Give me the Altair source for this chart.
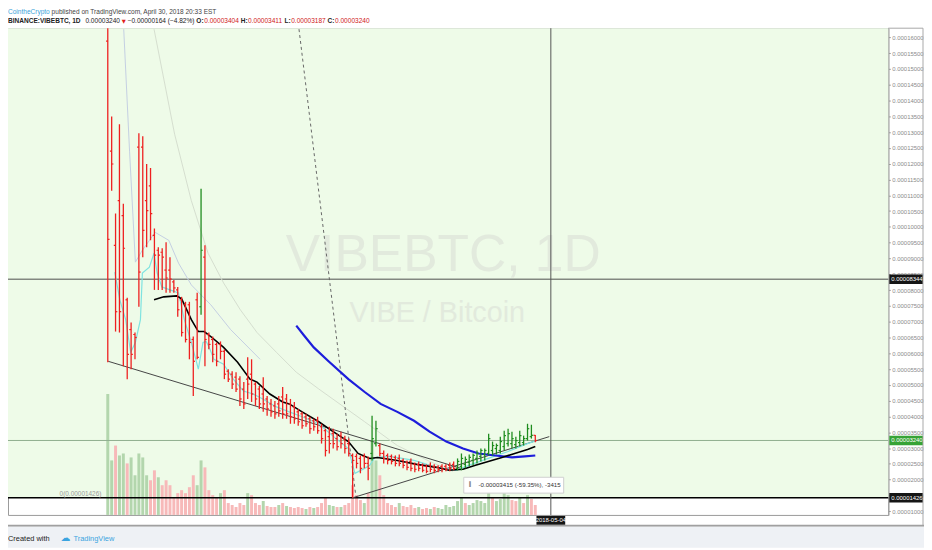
import altair as alt
import pandas as pd

# ------------------------------------------------------------------ data
FIRST_BAR = "2018-01-10"
REF_DAY = "2018-03-01"          # day 0 of the numeric time axis

# daily OHLC in satoshi (1e-8 BTC)
opens = [15879, 12397, 9416, 10828, 10357, 7691, 6750, 6593, 12522, 12522,
         10828, 11299, 9730, 9260, 9197, 8632, 8632, 8256, 8005, 7691,
         7534, 7534, 6436, 7691, 7471, 9040, 6593, 6436, 6279, 6279,
         6060, 5432, 5338, 5244, 5181, 4868, 5181, 5338, 5024, 4868,
         4711, 4554, 4397, 4334, 4397, 4617, 4554, 4397, 4303, 4146,
         4083, 3989, 3927, 3864, 3864, 3676, 3550, 3362, 3456, 3299,
         3393, 3299, 3142, 2766, 2735, 2672, 2735, 2515, 2829, 3142,
         3080, 2829, 2766, 2735, 2703, 2672, 2609, 2547, 2578, 2484,
         2484, 2453, 2421, 2453, 2421, 2390, 2421, 2421, 2453, 2484,
         2358, 2421, 2484, 2547, 2609, 2672, 2735, 2797, 2829, 2923,
         2986, 2923, 3048, 3142, 3142, 3111, 3174, 3174, 3299, 3362,
         3404]
highs = [18500, 13494, 10420, 13243, 10734, 7754, 6970, 6656, 12961, 12867,
         11989, 11863, 9950, 9354, 9322, 9510, 9040, 8318, 8099, 7785,
         7628, 7628, 6530, 7911, 11204, 9416, 6656, 6530, 6342, 6374,
         6123, 5495, 5432, 5401, 5275, 5087, 5871, 5809, 5087, 4962,
         5244, 4648, 4554, 4491, 4648, 4930, 4711, 4554, 4460, 4240,
         4146, 4083, 3989, 3927, 3989, 3769, 3613, 3676, 3613, 3456,
         3519, 3393, 3299, 2829, 2829, 2766, 2829, 2735, 4020, 3864,
         3142, 2923, 2829, 2797, 2766, 2797, 2672, 2609, 2672, 2547,
         2578, 2515, 2484, 2547, 2484, 2453, 2484, 2484, 2547, 2578,
         2672, 2829, 2735, 2797, 2829, 2923, 2986, 2986, 3456, 3205,
         3142, 3362, 3550, 3613, 3519, 3362, 3550, 3393, 3769, 3738,
         3411]
lows = [5715, 11142, 6687, 6656, 5589, 5181, 5495, 5809, 7471, 9040,
        9354, 9573, 8005, 8005, 8005, 7911, 7911, 7911, 7158, 6530,
        6342, 5809, 4648, 5809, 7221, 5589, 6123, 5715, 5589, 5809,
        5181, 5087, 4868, 4774, 4334, 4240, 4554, 4460, 4334, 4240,
        4146, 4020, 3989, 3927, 3989, 3927, 3927, 3769, 3769, 3707,
        3613, 3676, 3456, 3550, 3456, 3142, 2735, 2829, 2986, 2923,
        2986, 2829, 2735, 1426, 2358, 2202, 2358, 1982, 2609, 3048,
        2735, 2515, 2484, 2484, 2421, 2421, 2358, 2296, 2264, 2233,
        2264, 2233, 2202, 2233, 2202, 2233, 2233, 2264, 2264, 2296,
        2296, 2296, 2358, 2421, 2453, 2515, 2578, 2609, 2766, 2766,
        2797, 2829, 2923, 3048, 2986, 2986, 3048, 3080, 3237, 3299,
        3187]
closes = [9605, 11989, 7315, 7315, 9322, 5966, 5966, 6499, 8569, 9887,
          10514, 10420, 9103, 9103, 9040, 8381, 8349, 8067, 7377, 6656,
          6436, 6342, 5746, 5871, 9260, 6436, 6279, 5966, 5746, 6060,
          5338, 5181, 5024, 4868, 4554, 4397, 5024, 4711, 4554, 4397,
          4397, 4240, 4146, 4083, 4177, 4083, 4083, 3989, 3927, 3832,
          3707, 3769, 3613, 3676, 3550, 3299, 2923, 3142, 3142, 3048,
          3142, 2986, 2829, 2609, 2515, 2358, 2515, 2358, 3299, 3613,
          2829, 2672, 2609, 2578, 2515, 2515, 2453, 2390, 2358, 2327,
          2358, 2296, 2264, 2327, 2296, 2327, 2327, 2327, 2358, 2358,
          2578, 2672, 2641, 2703, 2766, 2829, 2923, 2923, 3299, 3080,
          3080, 3205, 3393, 3456, 3299, 3237, 3393, 3299, 3613, 3404,
          3240]
volumes = [122, 55, 70, 60, 62, 52, 58, 40, 62, 58,
           40, 35, 45, 38, 30, 35, 30, 18, 22, 25,
           22, 28, 40, 30, 55, 48, 25, 20, 18, 22,
           25, 12, 10, 8, 12, 10, 22, 20, 12, 10,
           14, 9, 8, 8, 10, 12, 9, 8, 7, 8,
           7, 6, 8, 7, 8, 12, 18, 10, 9, 8,
           8, 10, 12, 30, 20, 15, 12, 22, 75, 55,
           40, 20, 12, 10, 8, 12, 9, 8, 10, 7,
           8, 6, 7, 6, 8, 7, 6, 10, 8, 9,
           14, 18, 12, 10, 12, 15, 14, 12, 30, 18,
           14, 16, 22, 20, 15, 14, 18, 12, 20, 16,
           10]

# moving averages (day offset from REF_DAY, satoshi)
black_days = [-38.1, -35.6, -32.3, -31.0, -28.5, -26.7, -25.2, -23.5, -20.2, -16.6,
              -13.4, -11.6, -8.3, -5.0, -3.3, 0.0, 4.3, 7.6, 11.9, 14.4,
              17.4, 19.4, 24.5, 29.5, 34.6, 37.8, 41.4, 44.6, 47.9, 51.4,
              54.7, 58.0, 60.0]
black_vals = [7691, 7785, 7817, 7722, 7064, 6687, 6687, 6530, 6185, 5715,
              5181, 5087, 4711, 4460, 4397, 4146, 3832, 3550, 3205, 2829,
              2672, 2703, 2609, 2484, 2390, 2296, 2327, 2453, 2578, 2703,
              2829, 2954, 3048]
blue_days = [-1.5, 0.5, 3.0, 6.8, 11.9, 16.1, 20.2, 24.5, 28.8, 32.8,
             37.1, 41.4, 45.4, 49.7, 54.0, 57.3, 60.0]
blue_vals = [6875, 6562, 6185, 5746, 5181, 4774, 4397, 4146, 3864, 3519,
             3205, 2986, 2829, 2766, 2703, 2735, 2766]
cyan_days = [-48.2, -46.9, -45.4, -44.1, -42.9, -41.6, -41.1, -39.3, -38.1, -37.3,
             -36.1, -34.0, -31.8, -30.3, -28.5, -26.7, -25.5, -24.7, -24.0, -22.7,
             -20.2, -17.7, -15.1, -12.6, -10.1, -6.6, -3.3, 0.0, 4.3, 8.1,
             11.9, 13.6, 16.1, 17.4, 18.7, 22.7, 28.8, 34.6, 39.6, 42.9,
             47.9, 53.0, 58.0, 60.3]
cyan_vals = [8569, 7691, 7064, 6029, 6342, 7064, 8538, 8726, 9166, 8538,
             8099, 8005, 7911, 7064, 6342, 5495, 6342, 6374, 6217, 5809,
             5652, 5181, 4805, 4711, 4554, 4303, 4146, 3989, 3769, 3362,
             2986, 2202, 2358, 2453, 2703, 2735, 2609, 2390, 2296, 2453,
             2672, 2892, 3142, 3237]
faint_a_days = [-45.9, -44.4, -42.9, -41.1, -37.8, -34.3, -31.8, -28.5, -23.5, -18.4, -10.8]
faint_a_vals = [16255, 12397, 8883, 9260, 9825, 9573, 8852, 8162, 7534, 6750, 5809]
faint_b_days = [-38.1, -32.8, -28.5, -24.2, -20.2, -15.9, -11.6, -6.6, -1.5, 4.3,
                16.1, 24.5, 32.8, 38.8]
faint_b_vals = [16255, 12930, 10828, 9166, 8224, 7377, 6656, 6029, 5401, 4868,
                3832, 3080, 2578, 2264]

# drawings
trend_down_days = [-49.9, 40.9]
trend_down_vals = [5746, 2358]
trend_up_days = [13.0, 63.6]
trend_up_vals = [1426, 3362]
dash_days = [-0.8, 13.8]
dash_vals = [16255, 1500]

level_prices = [8344, 3240, 1426]
level_colors = ["#4d4d4d", "#8fae8f", "#000000"]
level_widths = [1.0, 1.0, 1.6]
level_label_fills = ["#151515", "#37a336", "#151515"]

cross_date = "2018-05-04"
measure_text = "-0.00003415 (-59.35%), -3415"
measure_box_days = [41.6, 67.3]
measure_box_vals = [2076, 1574]

tick_dates = ["2018-01-15", "2018-02-01", "2018-02-12", "2018-03-01", "2018-03-12",
              "2018-03-22", "2018-04-01", "2018-04-16", "2018-05-14", "2018-06-01",
              "2018-06-11", "2018-06-21", "2018-07-01", "2018-07-16"]
tick_labels = ["15", "Feb", "12", "Mar", "12", "22", "Apr", "16", "14", "Jun",
               "11", "21", "Jul", "16"]
price_ticks = list(range(1000, 16001, 500))

hdr1 = [("CointheCrypto", "#3aa3d9", "normal"),
        ("published on TradingView.com, April 30, 2018 20:33 EST", "#444444", "normal")]
hdr2 = [("BINANCE:VIBEBTC, 1D", "#222222", "bold"),
        ("0.00003240", "#222222", "normal"),
        ("\u25bc", "#e02020", "normal"),
        ("\u22120.00000164 (\u22124.82%)", "#222222", "normal"),
        ("O:", "#222222", "bold"),
        ("0.00003404", "#d01818", "normal"),
        ("H:", "#222222", "bold"),
        ("0.00003411", "#d01818", "normal"),
        ("L:", "#222222", "bold"),
        ("0.00003187", "#d01818", "normal"),
        ("C:", "#222222", "bold"),
        ("0.00003240", "#d01818", "normal")]
hdr_gap_after = [[1, 0], [1, 1, 1, 1, 0, 1, 0, 1, 0, 1, 0, 0]]   # space after segment?

# ------------------------------------------------------------------ layout
W, H = 888, 491
X_DOMAIN = [-74.4, 149.56]
Y_DOMAIN = [884, 16286]
VOL_DOMAIN = [0, 491]
FONT = "Liberation Sans"
HDR_SIZE = 6.6
RED, GREEN = "#ee2020", "#1f8c1f"
BG_GREEN = "#eefbe8"

# approximate Arial / Liberation Sans advance widths (em)
_w = {".": .278, ",": .278, ":": .278, " ": .278, "(": .333, ")": .333, "%": .889,
      "\u2212": .584, "-": .333, "/": .278, "\u25bc": .77,
      "A": .667, "B": .667, "C": .722, "D": .722, "E": .667, "H": .722, "I": .278,
      "L": .556, "N": .722, "O": .778, "S": .667, "T": .611, "V": .667,
      "f": .278, "i": .222, "j": .222, "l": .222, "m": .833, "r": .333, "t": .278,
      "s": .5, "c": .5, "v": .5, "y": .5, "w": .722, "k": .5, "z": .5, "x": .5}
_wb = {":": .333, "L": .611, "B": .722, "A": .722}


def text_width(s, size, bold=False):
    tot = 0.0
    for ch in s:
        if bold and ch in _wb:
            tot += _wb[ch]
        else:
            tot += _w.get(ch, .556)
    return tot * size * (1.04 if bold else 1.0)


ref = pd.Timestamp(REF_DAY)
dates = pd.date_range(FIRST_BAR, periods=len(closes), freq="D")
bars = pd.DataFrame({"day": (dates - ref).days, "o": opens, "h": highs,
                     "l": lows, "c": closes, "v": volumes})
bars["vup"] = bars["c"] >= bars["c"].shift(1).fillna(0)
tick_days = [int((pd.Timestamp(d) - ref).days) for d in tick_dates]

Xs = alt.Scale(domain=X_DOMAIN, nice=False, zero=False)
Ys = alt.Scale(domain=Y_DOMAIN, nice=False, zero=False)


def X(f):
    return alt.X(f, type="quantitative", scale=Xs, axis=None)


def Y(f):
    return alt.Y(f, type="quantitative", scale=Ys, axis=None)


one = pd.DataFrame({"a": [0]})
layers = []

# green background above the 0.00001426 level
layers.append(alt.Chart(pd.DataFrame({"p": [level_prices[2]]})).mark_rect(color=BG_GREEN)
              .encode(x=alt.value(0), x2=alt.value(W), y=Y("p"), y2=alt.value(0)))

# watermark
layers.append(alt.Chart(one).mark_text(text="VIBEBTC, 1D", fontSize=52, font=FONT,
                                       color="#e2eadd", align="center", baseline="middle")
              .encode(x=alt.value(439), y=alt.value(229)))
layers.append(alt.Chart(one).mark_text(text="VIBE / Bitcoin", fontSize=29, font=FONT,
                                       color="#e2eadd", align="center", baseline="middle")
              .encode(x=alt.value(433), y=alt.value(287)))

# volume
layers.append(alt.Chart(bars).mark_bar(width=3)
              .encode(x=X("day"),
                      y=alt.Y("v:Q", scale=alt.Scale(domain=VOL_DOMAIN), axis=None),
                      color=alt.condition("datum.vup", alt.value("#b3d6ad"), alt.value("#f7b9b9"))))

# level lines
lv = pd.DataFrame({"p": level_prices, "lc": level_colors, "lw": level_widths,
                   "fill": level_label_fills})
layers.append(alt.Chart(lv).mark_rule()
              .encode(y=Y("p"), x=alt.value(0), x2=alt.value(W),
                      color=alt.Color("lc:N", scale=None),
                      strokeWidth=alt.StrokeWidth("lw:Q", scale=None)))


def line_df(ds, vs):
    return pd.DataFrame({"day": ds, "p": vs})


# faint lines
layers.append(alt.Chart(line_df(faint_a_days, faint_a_vals))
              .mark_line(color="#c3cee2", strokeWidth=1, clip=True)
              .encode(x=X("day"), y=Y("p")))
layers.append(alt.Chart(line_df(faint_b_days, faint_b_vals))
              .mark_line(color="#d4dece", strokeWidth=1, clip=True)
              .encode(x=X("day"), y=Y("p")))

# drawings
layers.append(alt.Chart(line_df(trend_down_days, trend_down_vals))
              .mark_line(color="#444444", strokeWidth=1).encode(x=X("day"), y=Y("p")))
layers.append(alt.Chart(line_df(trend_up_days, trend_up_vals))
              .mark_line(color="#444444", strokeWidth=1).encode(x=X("day"), y=Y("p")))
layers.append(alt.Chart(line_df(dash_days, dash_vals))
              .mark_line(color="#666666", strokeWidth=1, strokeDash=[3, 3], clip=True)
              .encode(x=X("day"), y=Y("p")))

# moving averages
layers.append(alt.Chart(line_df(cyan_days, cyan_vals))
              .mark_line(color="#7fe3e0", strokeWidth=1.2).encode(x=X("day"), y=Y("p")))
layers.append(alt.Chart(line_df(blue_days, blue_vals))
              .mark_line(color="#1d1ddb", strokeWidth=2.2).encode(x=X("day"), y=Y("p")))
layers.append(alt.Chart(line_df(black_days, black_vals))
              .mark_line(color="#000000", strokeWidth=1.6).encode(x=X("day"), y=Y("p")))

# OHLC bars
up = "datum.c >= datum.o"
col = alt.condition(up, alt.value(GREEN), alt.value(RED))
cb = alt.Chart(bars)
layers.append(cb.mark_rule(strokeWidth=1.3, clip=True)
              .encode(x=X("day"), y=Y("l"), y2=alt.Y2("h"), color=col))
layers.append(cb.transform_calculate(d0="datum.day - 0.45")
              .mark_rule(strokeWidth=1.2, clip=True)
              .encode(x=X("d0"), x2=alt.X2("day"), y=Y("o"), color=col))
layers.append(cb.transform_calculate(d1="datum.day + 0.45")
              .mark_rule(strokeWidth=1.2, clip=True)
              .encode(x=X("day"), x2=alt.X2("d1"), y=Y("c"), color=col))

# crosshair
cross = pd.DataFrame({"day": [int((pd.Timestamp(cross_date) - ref).days)], "lab": [cross_date]})
layers.append(alt.Chart(cross).mark_rule(color="#555555", strokeWidth=1)
              .encode(x=X("day"), y=alt.value(0), y2=alt.value(H)))

# measure label
mdf = pd.DataFrame({"d0": [measure_box_days[0]], "d1": [measure_box_days[1]],
                    "p0": [measure_box_vals[0]], "p1": [measure_box_vals[1]],
                    "lab": [measure_text]})
layers.append(alt.Chart(mdf).mark_rect(fill="white", stroke="#cfcfcf", strokeWidth=1)
              .encode(x=X("d0"), x2=alt.X2("d1"), y=Y("p0"), y2=alt.Y2("p1")))
layers.append(alt.Chart(mdf).transform_calculate(pm="(datum.p0 + datum.p1) / 2", dt="datum.d0 + 3.8")
              .mark_text(align="left", baseline="middle", fontSize=6.2, font=FONT, color="#333333")
              .encode(x=X("dt"), y=Y("pm"), text="lab:N"))
layers.append(alt.Chart(mdf).transform_calculate(pm="(datum.p0 + datum.p1) / 2", dt="datum.d0 + 1.6")
              .mark_text(text="I", align="center", baseline="middle", fontSize=8,
                         font="DejaVu Sans", fontWeight="bold", color="#8a8a8a")
              .encode(x=X("dt"), y=Y("pm")))

# axes layer
label_expr = "".join(f"datum.value == {d} ? '{t}' : " for d, t in zip(tick_days, tick_labels)) + "''"
xaxis = alt.Axis(values=tick_days, labelExpr=label_expr, orient="bottom", grid=False,
                 title=None, domainColor="#9a9a9a", tickColor="#9a9a9a", tickSize=3,
                 labelFontSize=6.5, labelColor="#555555", labelFont=FONT, labelPadding=2,
                 labelOverlap=False, labelFlush=False)
yaxis = alt.Axis(values=price_ticks, labelExpr="format(datum.value / 1e8, '.8f')",
                 orient="right", grid=False, title=None, domainColor="#9a9a9a",
                 tickColor="#9a9a9a", tickSize=2, labelFontSize=6, labelColor="#8a8a8a",
                 labelFont=FONT, labelPadding=1.5, labelOverlap=False, labelFlush=False)
layers.append(alt.Chart(bars).mark_point(opacity=0)
              .encode(x=alt.X("day:Q", scale=Xs, axis=xaxis),
                      y=alt.Y("c:Q", scale=Ys, axis=yaxis)))

# price labels on the axis
layers.append(alt.Chart(lv).transform_calculate(lo="datum.p - 150", hi="datum.p + 150")
              .mark_rect()
              .encode(x=alt.value(W + 1), x2=alt.value(W + 35), y=Y("lo"), y2=alt.Y2("hi"),
                      color=alt.Color("fill:N", scale=None)))
layers.append(alt.Chart(lv).transform_calculate(lab="format(datum.p / 1e8, '.8f')")
              .mark_text(align="left", baseline="middle", fontSize=6, font=FONT, color="white")
              .encode(x=alt.value(W + 3), y=Y("p"), text="lab:N"))
layers.append(alt.Chart(lv.iloc[[2]]).transform_calculate(lab="'0(' + format(datum.p / 1e8, '.8f') + ')'")
              .mark_text(align="left", baseline="bottom", fontSize=6.5, font=FONT, color="#9a9a9a", dy=-1)
              .encode(x=alt.value(52), y=Y("p"), text="lab:N"))

# date label on the time axis
layers.append(alt.Chart(cross).transform_calculate(d0="datum.day - 3.7", d1="datum.day + 3.7")
              .mark_rect(color="#151515")
              .encode(x=X("d0"), x2=alt.X2("d1"), y=alt.value(H + 1), y2=alt.value(H + 10)))
layers.append(alt.Chart(cross).mark_text(align="center", baseline="middle", fontSize=6,
                                         font=FONT, color="white")
              .encode(x=X("day"), y=alt.value(H + 5.5), text="lab:N"))

# frame pieces of the price / time panes
layers.append(alt.Chart(one).mark_rule(color="#a8a8a8", strokeWidth=1)
              .encode(x=alt.value(W), x2=alt.value(W + 35), y=alt.value(0)))
layers.append(alt.Chart(one).mark_rule(color="#a8a8a8", strokeWidth=1)
              .encode(x=alt.value(W + 35), y=alt.value(0), y2=alt.value(H + 11)))
layers.append(alt.Chart(one).mark_rule(color="#a0a0a0", strokeWidth=2)
              .encode(x=alt.value(0), x2=alt.value(W + 36), y=alt.value(H + 11)))

# footer
layers.append(alt.Chart(one).mark_rect(color="#eef1f5")
              .encode(x=alt.value(0), x2=alt.value(W + 36), y=alt.value(H + 12), y2=alt.value(H + 33)))
layers.append(alt.Chart(one).mark_text(text="Created with", align="left", baseline="middle",
                                       fontSize=7.5, font=FONT, color="#222222")
              .encode(x=alt.value(0), y=alt.value(H + 24)))
layers.append(alt.Chart(one).mark_text(text="\u2601", align="left", baseline="middle",
                                       fontSize=10, font="DejaVu Sans", color="#3ba4e0")
              .encode(x=alt.value(53), y=alt.value(H + 23)))
layers.append(alt.Chart(one).mark_text(text="TradingView", align="left", baseline="middle",
                                       fontSize=7.5, font=FONT, color="#3ba4e0")
              .encode(x=alt.value(66), y=alt.value(H + 24)))

# header, laid out left to right from estimated text widths
for line_y, segs, gaps in ((-16.5, hdr1, hdr_gap_after[0]), (-7, hdr2, hdr_gap_after[1])):
    cx = 0.0
    for (txt, colr, wt), gap in zip(segs, gaps):
        fnt = "DejaVu Sans" if txt == "\u25bc" else FONT
        fs = HDR_SIZE * 0.8 if txt == "\u25bc" else HDR_SIZE
        layers.append(alt.Chart(one).mark_text(text=txt, align="left", baseline="middle",
                                               fontSize=fs, font=fnt, color=colr, fontWeight=wt)
                      .encode(x=alt.value(round(cx, 1)), y=alt.value(line_y)))
        cx += text_width(txt, fs, wt == "bold") + (text_width(" ", HDR_SIZE) if gap else 0.3)

chart = (alt.layer(*layers)
         .resolve_scale(y="independent")
         .properties(width=W, height=H, background="white",
                     padding={"left": 0, "top": 18, "right": 36, "bottom": 33},
                     autosize=alt.AutoSizeParams(type="none"))
         .configure_view(stroke="#9a9a9a", strokeWidth=1))

chart.save("out.html", embed_options={"renderer": "svg", "actions": False})
